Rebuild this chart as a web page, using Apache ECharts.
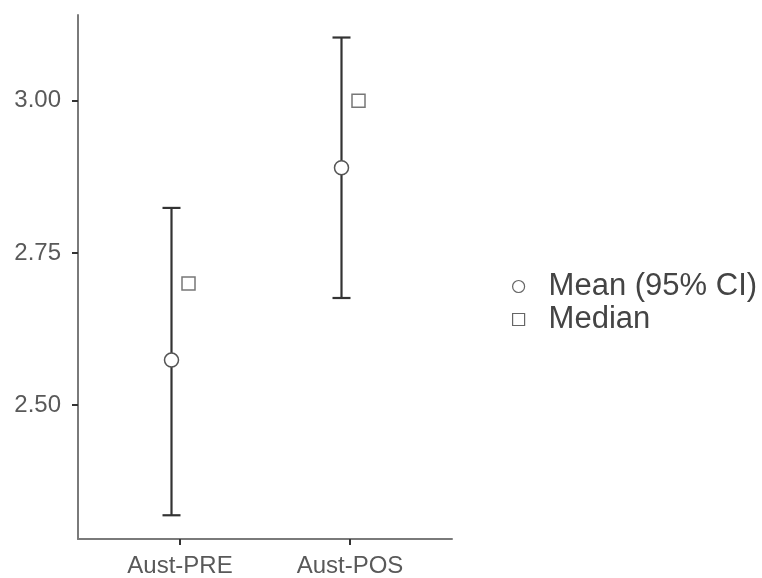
<!DOCTYPE html>
<html><head><meta charset="utf-8">
<script src="https://cdn.jsdelivr.net/npm/echarts@6/dist/echarts.min.js"></script>
<style>html,body{margin:0;padding:0;background:#fff}#c{width:762px;height:578px}</style>
</head><body><div id="c"></div>
<script>
const categories = ['Aust-PRE', 'Aust-POS'];
const means = [2.574, 2.890];
const ciLower = [2.319, 2.676];
const ciUpper = [2.824, 3.104];
const medians = [2.70, 3.00];
const yTicks = [2.50, 2.75, 3.00];
const dodge = 0.05;

const chart = echarts.init(document.getElementById('c'));
const errData = categories.map((c, i) => [i + 1 - dodge, ciLower[i], ciUpper[i]]);
const meanData = categories.map((c, i) => [i + 1 - dodge, means[i]]);
const medData = categories.map((c, i) => [i + 1 + dodge, medians[i]]);
const FONT = 'Liberation Sans, Arial, sans-serif';

chart.setOption({
  animation: false,
  grid: { left: 78, right: 310, top: 15, bottom: 39 },
  xAxis: {
    type: 'value', min: 0.4, max: 2.6,
    splitLine: { show: false },
    axisLine: { show: true, lineStyle: { color: '#7a7a7a', width: 2 } },
    axisTick: { show: true, customValues: [1, 2], length: 6, lineStyle: { color: '#333', width: 2 } },
    axisLabel: { customValues: [1, 2], formatter: v => categories[Math.round(v) - 1] || '',
      color: '#595959', fontSize: 24, fontFamily: FONT, margin: 15 }
  },
  yAxis: {
    type: 'value', min: 2.28, max: 3.141,
    splitLine: { show: false },
    axisLine: { show: true, lineStyle: { color: '#7a7a7a', width: 2 } },
    axisTick: { show: true, customValues: yTicks, length: 6, lineStyle: { color: '#333', width: 2 } },
    axisLabel: { customValues: yTicks, formatter: v => v.toFixed(2),
      color: '#595959', fontSize: 24, fontFamily: FONT, margin: 17 }
  },
  legend: {
    left: 512, top: 271, orient: 'vertical', itemGap: 2, padding: 0,
    itemWidth: 12, itemHeight: 12,
    textStyle: { color: '#444', fontSize: 31, lineHeight: 31, fontFamily: FONT, padding: [0, 0, 0, 19] },
    data: [
      { name: 'Mean (95% CI)', icon: 'circle', itemStyle: { color: '#fff', borderColor: '#666', borderWidth: 1.2 } },
      { name: 'Median', icon: 'rect', itemStyle: { color: '#fff', borderColor: '#666', borderWidth: 1.2 } }
    ]
  },
  series: [
    {
      type: 'custom', name: 'err', data: errData, z: 2,
      renderItem: (params, api) => {
        const x = api.value(0);
        const lo = api.coord([x, api.value(1)]);
        const hi = api.coord([x, api.value(2)]);
        const hw = 9;
        const st = { stroke: '#333', lineWidth: 2.2 };
        return { type: 'group', children: [
          { type: 'line', shape: { x1: lo[0], y1: lo[1], x2: hi[0], y2: hi[1] }, style: st },
          { type: 'line', shape: { x1: lo[0] - hw, y1: lo[1], x2: lo[0] + hw, y2: lo[1] }, style: st },
          { type: 'line', shape: { x1: hi[0] - hw, y1: hi[1], x2: hi[0] + hw, y2: hi[1] }, style: st }
        ]};
      }
    },
    {
      type: 'scatter', name: 'Mean (95% CI)', data: meanData, symbol: 'circle', symbolSize: 14, z: 3,
      itemStyle: { color: '#fff', borderColor: '#555', borderWidth: 1.5, opacity: 1 }
    },
    {
      type: 'scatter', name: 'Median', data: medData, symbol: 'rect', symbolSize: 13, z: 3,
      itemStyle: { color: '#fff', borderColor: '#777', borderWidth: 1.5, opacity: 1 }
    }
  ]
});
</script></body></html>
